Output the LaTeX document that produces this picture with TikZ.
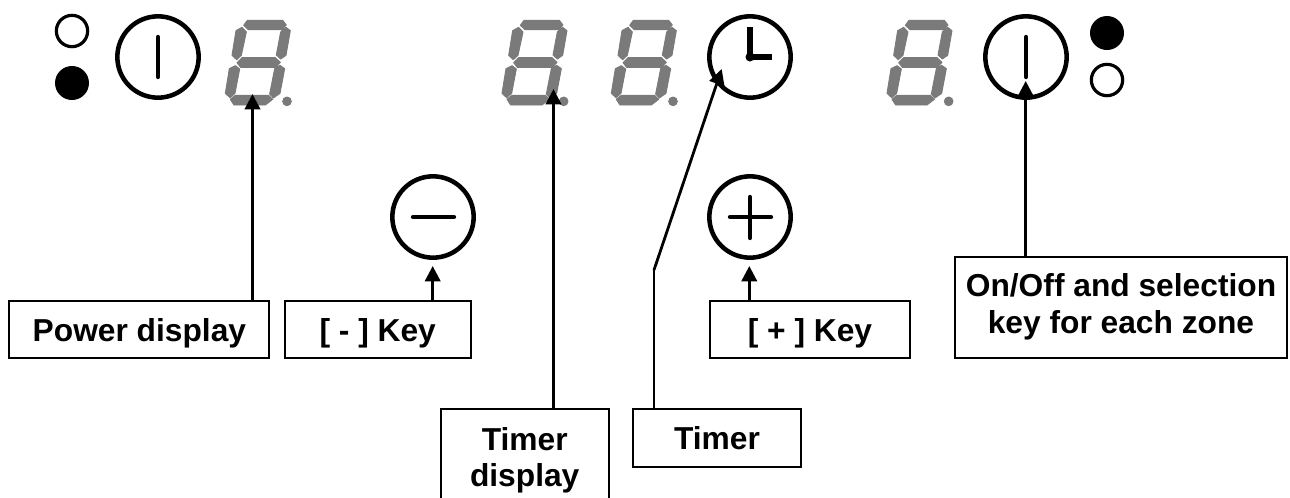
\documentclass[tikz,border=0pt]{standalone}
\usepackage{fontspec}
\setmainfont{Liberation Sans}
\usetikzlibrary{arrows.meta}
\definecolor{segray}{HTML}{7A7A7A}
\tikzset{
  keyring/.style={circle,draw=black,line width=3.4pt,minimum size=61pt,inner sep=0pt},
  ledopen/.style={circle,draw=black,line width=2.4pt,minimum size=23.5pt,inner sep=0pt},
  ledfull/.style={circle,fill=black,minimum size=25.5pt,inner sep=0pt},
  glyph/.style={line width=3.2pt,line cap=round},
  labelbox/.style={draw=black,line width=1.5pt,inner sep=0pt,align=center,font=\bfseries\fontsize{23.8}{27.6}\selectfont},
  conn/.style={line width=2.1pt,-{Triangle[length=11.5pt,width=11.5pt]}},
  thin conn/.style={line width=1.6pt},
}
\newcommand{\segdigit}[1]{%
  \begin{scope}[shift={(#1,0)},scale=0.33333]
    \filldraw[segray,line width=0.7pt,line join=round]
      (652,61)--(758,61)--(769,75)--(755,89)--(655,89)--(641,76)--cycle
      (636,82)--(649,96)--(634,166)--(620,179)--(606,166)--(618,92)--cycle
      (768,82)--(781,92)--(768,166)--(752,177)--(739,165)--(752,96)--cycle
      (636,173)--(736,173)--(751,187)--(736,202)--(632,202)--(621,188)--cycle
      (616,197)--(629,207)--(615,280)--(600,293)--(586,280)--(598,206)--cycle
      (750,196)--(764,206)--(750,280)--(730,294)--(719,282)--(734,206)--cycle
      (601,298)--(616,286)--(716,286)--(728,298)--(706,315)--(612,315)--cycle
      (771,304) circle (13);
  \end{scope}}
\begin{document}
\begin{tikzpicture}[x=0.75pt,y=-0.75pt]
\useasboundingbox (0,0) rectangle (1290,497);
% LEDs
\node[ledopen] (ledA) at (72,31) {};
\node[ledfull] (ledB) at (72,83) {};
\node[ledfull] (ledC) at (1107,33) {};
\node[ledopen] (ledD) at (1107,80) {};
% keys
\node[keyring] (keyL) at (158,57) {};
\draw[glyph] (158,37) -- (158,77);
\node[keyring] (keyClock) at (750,57) {};
\draw[glyph,line width=3.8pt,line cap=butt] (750,27) -- (750,57) -- (772,57);
\fill (750,57) circle (4.5);
\node[keyring] (keyR) at (1026,57) {};
\draw[glyph] (1026,37) -- (1026,77);
\node[keyring] (keyMinus) at (433,217) {};
\draw[glyph] (413,217) -- (454,217);
\node[keyring] (keyPlus) at (750,217) {};
\draw[glyph] (730,217) -- (771,217) (750,197) -- (750,238);
% digits
\segdigit{30}
\segdigit{306.67}
\segdigit{416}
\segdigit{691.67}
% boxes
\node[labelbox,minimum width=195pt,minimum height=43pt] (pow) at (139.4,329.5) {\rule{0pt}{24pt}Power display\rule[-5.7pt]{0pt}{5.7pt}};
\node[labelbox,minimum width=139.5pt,minimum height=43pt] (minusbox) at (377.7,329.5) {\rule{0pt}{24pt}[ - ] Key\rule[-5.7pt]{0pt}{5.7pt}};
\node[labelbox,minimum width=150pt,minimum height=43pt] (plusbox) at (810,329.5) {\rule{0pt}{24pt}[ + ] Key\rule[-5.7pt]{0pt}{5.7pt}};
\node[labelbox,minimum width=249pt,minimum height=76pt] (onoff) at (1121,307.5) {\rule{0pt}{17pt}On/Off and selection\\key for each zone\rule[-5.75pt]{0pt}{5.75pt}};
\node[labelbox,minimum width=126pt,minimum height=72pt] (tdisp) at (524.7,457) {\rule{0pt}{23pt}Timer\\display\rule[-5.75pt]{0pt}{5.75pt}};
\node[labelbox,minimum width=126pt,minimum height=43.5pt] (timer) at (717,438.3) {\rule{0pt}{23.5pt}Timer\rule[-6pt]{0pt}{6pt}};
% connector ends
\coordinate (tipPow) at (252.5,94);
\coordinate (tipDisp) at (553.5,89);
\coordinate (tipMinus) at (432.7,266);
\coordinate (tipPlus) at (749.3,266);
\coordinate (tipR) at (1025.7,81);
\coordinate (tipClock) at (721.7,69);
\coordinate (bend) at (654,270);
% connectors
\draw[conn] (pow.north -| tipPow) -- (tipPow);
\draw[conn] (tdisp.north -| tipDisp) -- (tipDisp);
\draw[conn] (minusbox.north -| tipMinus) -- (tipMinus);
\draw[conn] (plusbox.north -| tipPlus) -- (tipPlus);
\draw[conn] (onoff.north -| tipR) -- (tipR);
\draw[thin conn] (timer.north -| bend) -- (bend);
\draw[conn] (bend) -- (tipClock);
\end{tikzpicture}
\end{document}
